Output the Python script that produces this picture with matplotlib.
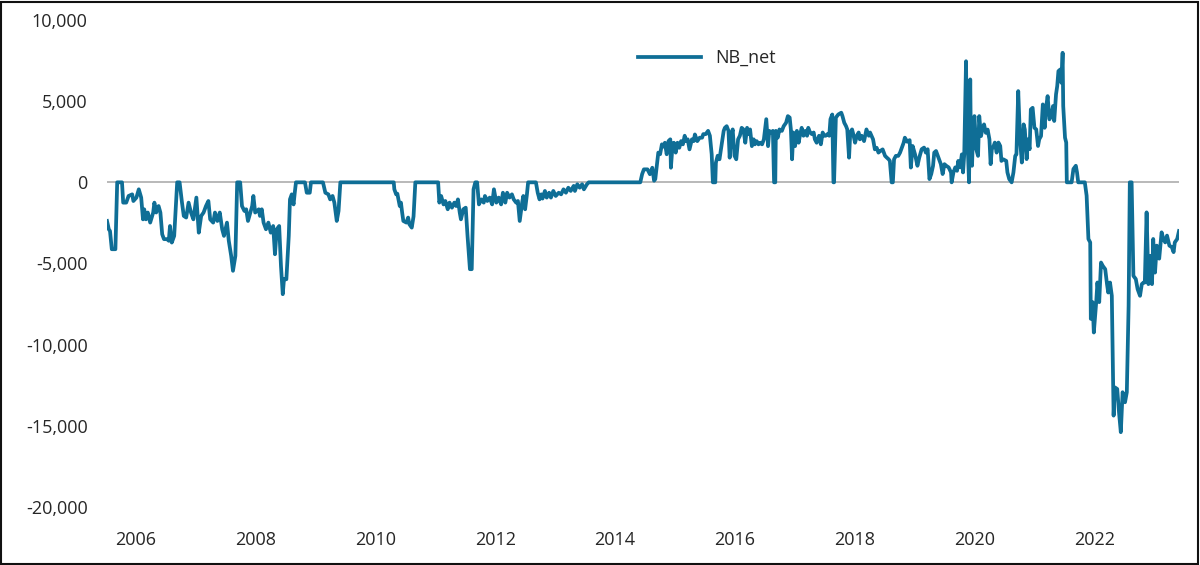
import matplotlib
matplotlib.use("Agg")
import matplotlib.pyplot as plt
from matplotlib.ticker import FuncFormatter, FixedLocator
from matplotlib.patches import Rectangle
import numpy as np

plt.rcParams['font.family'] = ['Open Sans', 'DejaVu Sans']

series_name = "NB_net"
year_ticks = [2006, 2008, 2010, 2012, 2014, 2016, 2018, 2020, 2022]
value_ticks = [-20000, -15000, -10000, -5000, 0, 5000, 10000]

# (decimal year, value)
points_2005_2009 = [
    (2005.53, -2380), (2005.56, -2890), (2005.58, -3000), (2005.61, -4120), (2005.67, -4120),
    (2005.70, 0), (2005.78, 0), (2005.80, -1250), (2005.85, -1250), (2005.89, -840),
    (2005.95, -740), (2005.97, -1150), (2006.02, -940), (2006.06, -430), (2006.10, -940),
    (2006.13, -2280), (2006.15, -1660), (2006.18, -2280), (2006.21, -1860), (2006.25, -2480),
    (2006.30, -1860), (2006.32, -1250), (2006.35, -1860), (2006.39, -1460), (2006.42, -1860),
    (2006.45, -3200), (2006.48, -3500), (2006.53, -3500), (2006.56, -3600), (2006.58, -2690),
    (2006.61, -3710), (2006.65, -3300), (2006.70, 0), (2006.74, 0), (2006.78, -1250),
    (2006.81, -2070), (2006.85, -2170), (2006.89, -1250), (2006.93, -1860), (2006.97, -2280),
    (2007.02, -940), (2007.06, -3100), (2007.10, -2070), (2007.14, -1860), (2007.18, -1460),
    (2007.22, -1150), (2007.25, -2280), (2007.30, -2480), (2007.33, -1860), (2007.37, -2380),
    (2007.41, -1860), (2007.45, -2890), (2007.48, -3300), (2007.53, -2480), (2007.56, -3600),
    (2007.60, -4530), (2007.63, -5450), (2007.67, -4530), (2007.70, 0), (2007.75, 0),
    (2007.78, -1460), (2007.82, -1760), (2007.85, -1660), (2007.88, -2380), (2007.92, -1860),
    (2007.95, -1460), (2007.97, -840), (2008.00, -1860), (2008.06, -1660), (2008.08, -2070),
    (2008.11, -1660), (2008.14, -2480), (2008.18, -2890), (2008.22, -2480), (2008.26, -3100),
    (2008.30, -2690), (2008.33, -4430), (2008.36, -2890), (2008.40, -2690), (2008.43, -5150),
    (2008.46, -6890), (2008.48, -5970), (2008.52, -5970), (2008.56, -3300), (2008.58, -1050),
    (2008.61, -740), (2008.64, -1360), (2008.66, -640), (2008.68, 0), (2008.83, 0),
    (2008.86, -640), (2008.91, -640), (2008.93, 0), (2009.13, 0), (2009.17, -640),
    (2009.22, -740), (2009.25, -1050), (2009.29, -840), (2009.32, -1250), (2009.36, -2380),
    (2009.39, -1760), (2009.42, 0),
]

points_2010_2014 = [
    (2010.31, 0), (2010.32, -430), (2010.35, -740), (2010.37, -700), (2010.41, -1460),
    (2010.43, -1250), (2010.45, -1860), (2010.47, -2380), (2010.52, -2480), (2010.55, -2170),
    (2010.57, -2580), (2010.61, -2790), (2010.64, -2100), (2010.67, 0), (2011.05, 0),
    (2011.07, -1250), (2011.10, -840), (2011.14, -1360), (2011.17, -1150), (2011.21, -1660),
    (2011.24, -1250), (2011.28, -1560), (2011.32, -1250), (2011.35, -1460), (2011.38, -1050),
    (2011.41, -1860), (2011.43, -2280), (2011.47, -1660), (2011.51, -1560), (2011.54, -3300),
    (2011.58, -5350), (2011.61, -5350), (2011.64, -430), (2011.67, 0), (2011.70, 0),
    (2011.73, -1360), (2011.77, -1050), (2011.81, -1250), (2011.83, -840), (2011.87, -1150),
    (2011.91, -940), (2011.95, -1360), (2011.98, -430), (2012.02, -1250), (2012.06, -940),
    (2012.10, -1360), (2012.13, -640), (2012.17, -1250), (2012.20, -640), (2012.24, -940),
    (2012.28, -740), (2012.31, -1050), (2012.35, -1250), (2012.38, -1150), (2012.41, -2380),
    (2012.45, -1250), (2012.47, -840), (2012.50, -1660), (2012.53, -740), (2012.55, 0),
    (2012.68, 0), (2012.71, -640), (2012.74, -1050), (2012.77, -740), (2012.79, -1000),
    (2012.83, -530), (2012.86, -940), (2012.90, -640), (2012.93, -940), (2012.97, -530),
    (2013.01, -840), (2013.06, -640), (2013.10, -740), (2013.14, -430), (2013.18, -640),
    (2013.22, -330), (2013.26, -530), (2013.31, -220), (2013.33, -530), (2013.37, -120),
    (2013.41, -330), (2013.45, -120), (2013.48, -430), (2013.53, -120), (2013.56, 0),
    (2014.42, 0), (2014.45, 500), (2014.48, 800), (2014.54, 800), (2014.58, 500),
    (2014.62, 900), (2014.65, 100), (2014.67, 200), (2014.70, 1200), (2014.72, 1830),
    (2014.75, 1730), (2014.78, 2340), (2014.81, 2200), (2014.83, 2440), (2014.86, 1730),
    (2014.89, 2540), (2014.92, 2650), (2014.93, 900), (2014.96, 2400), (2014.98, 2440),
]

points_2015_2018 = [
    (2015.01, 1830), (2015.04, 2440), (2015.07, 2130), (2015.10, 2540), (2015.13, 2340),
    (2015.16, 2870), (2015.18, 2540), (2015.21, 2650), (2015.24, 2030), (2015.28, 2650),
    (2015.31, 2540), (2015.33, 2950), (2015.37, 2540), (2015.41, 2750), (2015.45, 2750),
    (2015.47, 2970), (2015.51, 2970), (2015.55, 3170), (2015.58, 2870), (2015.61, 1730),
    (2015.63, 0), (2015.67, 0), (2015.68, 1210), (2015.71, 1640), (2015.74, 1420),
    (2015.78, 2440), (2015.81, 3170), (2015.83, 3360), (2015.86, 3460), (2015.89, 3170),
    (2015.91, 1520), (2015.93, 2770), (2015.96, 3260), (2015.99, 1640), (2016.02, 1420),
    (2016.05, 2650), (2016.08, 2870), (2016.11, 3360), (2016.14, 3260), (2016.17, 2440),
    (2016.20, 3360), (2016.22, 2970), (2016.25, 3260), (2016.28, 2230), (2016.31, 2650),
    (2016.33, 2340), (2016.36, 2540), (2016.39, 2340), (2016.42, 2440), (2016.45, 2340),
    (2016.48, 2650), (2016.52, 3890), (2016.55, 2230), (2016.57, 3170), (2016.60, 3070),
    (2016.63, 3170), (2016.65, 0), (2016.67, 0), (2016.68, 3170), (2016.71, 2750),
    (2016.74, 3260), (2016.78, 3170), (2016.81, 3460), (2016.85, 3670), (2016.88, 4080),
    (2016.91, 3990), (2016.93, 3260), (2016.95, 1420), (2016.97, 3070), (2017.00, 2230),
    (2017.03, 3170), (2017.06, 2440), (2017.08, 2870), (2017.11, 3360), (2017.14, 2870),
    (2017.17, 3170), (2017.20, 2870), (2017.22, 3360), (2017.25, 3070), (2017.28, 2970),
    (2017.31, 3070), (2017.33, 2650), (2017.36, 2440), (2017.40, 2870), (2017.43, 2340),
    (2017.46, 3070), (2017.48, 2870), (2017.51, 2870), (2017.54, 2970), (2017.57, 2870),
    (2017.59, 3890), (2017.62, 4180), (2017.64, 0), (2017.65, 0), (2017.68, 3990),
    (2017.72, 4180), (2017.77, 4290), (2017.79, 4080), (2017.82, 3670), (2017.85, 3460),
    (2017.87, 3260), (2017.90, 1520), (2017.92, 3070), (2017.95, 3260), (2017.97, 2970),
    (2018.00, 2440), (2018.03, 2870), (2018.06, 3070), (2018.08, 2650), (2018.11, 2870),
    (2018.15, 2540), (2018.19, 3260), (2018.23, 2870), (2018.25, 3070), (2018.30, 2650),
    (2018.33, 2030), (2018.36, 2130), (2018.39, 1830), (2018.42, 1930), (2018.46, 2030),
    (2018.50, 1630), (2018.53, 1520), (2018.56, 1420), (2018.58, 1320), (2018.61, 0),
    (2018.63, 0), (2018.65, 1420), (2018.68, 1630), (2018.72, 1630), (2018.75, 1830),
    (2018.81, 2440), (2018.83, 2750), (2018.87, 2500), (2018.91, 2600), (2018.93, 910),
    (2018.96, 2240),
]

points_2019_2023 = [
    (2019.00, 1720), (2019.04, 1020), (2019.07, 1520), (2019.11, 2040), (2019.15, 2140),
    (2019.18, 1830), (2019.21, 2040), (2019.24, 200), (2019.27, 510), (2019.30, 1020),
    (2019.32, 1830), (2019.35, 1930), (2019.38, 1630), (2019.41, 1320), (2019.43, 1120),
    (2019.46, 510), (2019.49, 1120), (2019.52, 1020), (2019.56, 920), (2019.60, 610),
    (2019.61, 0), (2019.64, 610), (2019.67, 920), (2019.70, 710), (2019.72, 1320),
    (2019.75, 920), (2019.78, 1720), (2019.80, 610), (2019.82, 1720), (2019.85, 7460),
    (2019.86, 3670), (2019.88, 2040), (2019.90, 0), (2019.92, 6340), (2019.93, 2650),
    (2019.95, 1020), (2019.97, 3460), (2019.99, 4080), (2020.02, 2040), (2020.05, 1630),
    (2020.07, 4080), (2020.10, 2850), (2020.12, 3250), (2020.15, 3570), (2020.18, 3050),
    (2020.21, 3250), (2020.24, 2650), (2020.26, 1120), (2020.28, 2040), (2020.31, 2240),
    (2020.33, 2450), (2020.36, 1830), (2020.39, 2450), (2020.42, 2240), (2020.44, 1320),
    (2020.47, 1420), (2020.52, 1320), (2020.54, 610), (2020.57, 200), (2020.61, 0),
    (2020.64, 610), (2020.67, 1630), (2020.69, 1720), (2020.72, 5620), (2020.75, 2650),
    (2020.78, 1220), (2020.81, 3570), (2020.83, 3250), (2020.86, 1430), (2020.88, 2650),
    (2020.91, 2040), (2020.93, 4490), (2020.96, 4590), (2020.99, 3360), (2021.02, 3260),
    (2021.05, 2240), (2021.07, 2650), (2021.10, 2850), (2021.13, 4800), (2021.16, 3360),
    (2021.18, 4490), (2021.21, 5310), (2021.24, 3880), (2021.27, 4080), (2021.30, 4700),
    (2021.32, 3780), (2021.35, 5420), (2021.37, 5930), (2021.39, 6850), (2021.42, 6950),
    (2021.44, 6130), (2021.46, 7980), (2021.47, 4700), (2021.50, 2750), (2021.52, 2450),
    (2021.53, 0), (2021.61, 0), (2021.64, 820), (2021.68, 1020), (2021.70, 610),
    (2021.72, 0), (2021.83, 0), (2021.86, -820), (2021.89, -3490), (2021.92, -3700),
    (2021.93, -8410), (2021.96, -7380), (2021.98, -9250), (2022.02, -7380), (2022.04, -6170),
    (2022.07, -7380), (2022.10, -4940), (2022.13, -5150), (2022.17, -5350), (2022.20, -6270),
    (2022.22, -6790), (2022.25, -6170), (2022.28, -6990), (2022.31, -14370), (2022.33, -12630),
    (2022.37, -12730), (2022.40, -14170), (2022.43, -15390), (2022.46, -12930), (2022.50, -13550),
    (2022.53, -12930), (2022.56, -7610), (2022.58, 0), (2022.61, 0), (2022.64, -5760),
    (2022.68, -5960), (2022.71, -6580), (2022.75, -6990), (2022.78, -6270), (2022.81, -6170),
    (2022.83, -6170), (2022.86, -1850), (2022.89, -6270), (2022.92, -4530), (2022.95, -6270),
    (2022.97, -3490), (2023.00, -5560), (2023.03, -3900), (2023.07, -4700), (2023.11, -3080),
    (2023.14, -3490), (2023.17, -3700), (2023.20, -3280), (2023.24, -3900), (2023.28, -3990),
    (2023.31, -4300), (2023.33, -3700), (2023.37, -3490), (2023.40, -3000),
]

all_points = points_2005_2009 + points_2010_2014 + points_2015_2018 + points_2019_2023
dates = np.array([p[0] for p in all_points])
nb_net = np.array([p[1] for p in all_points])

W, H = 1200, 565
fig = plt.figure(figsize=(W / 100, H / 100), dpi=100)
ax = fig.add_axes([107 / W, 1 - 507 / H, (1179 - 107) / W, (507 - 20) / H])

line_color = '#0f6e96'
text_color = '#262626'

ax.axhline(0, color='#a6a6a6', linewidth=1.1, zorder=1)
ax.plot(dates, nb_net, color=line_color, linewidth=2.7, label=series_name, zorder=2,
        solid_joinstyle='round')

ax.set_xlim(dates.min(), dates.max())
ax.set_ylim(-20000, 10000)
ax.xaxis.set_major_locator(FixedLocator(year_ticks))
ax.xaxis.set_major_formatter(FuncFormatter(lambda v, p: f"{int(round(v))}"))
ax.yaxis.set_major_locator(FixedLocator(value_ticks))
ax.yaxis.set_major_formatter(FuncFormatter(lambda v, p: f"{v:,.0f}"))

for s in ax.spines.values():
    s.set_visible(False)
ax.tick_params(axis='both', length=0, labelsize=13, colors=text_color)
ax.tick_params(axis='x', pad=17)
ax.tick_params(axis='y', pad=14)

leg = ax.legend(loc='center left', bbox_to_anchor=(622 / W, 1 - 58 / H),
                bbox_transform=fig.transFigure, frameon=False, fontsize=13,
                handlelength=3.5, handletextpad=0.75)
for t in leg.get_texts():
    t.set_color(text_color)

fig.patches.append(Rectangle((0.001, 0.001), 0.997, 0.996, transform=fig.transFigure,
                             fill=False, edgecolor='#111111', linewidth=1.5))

fig.savefig('out.png', dpi=100)
